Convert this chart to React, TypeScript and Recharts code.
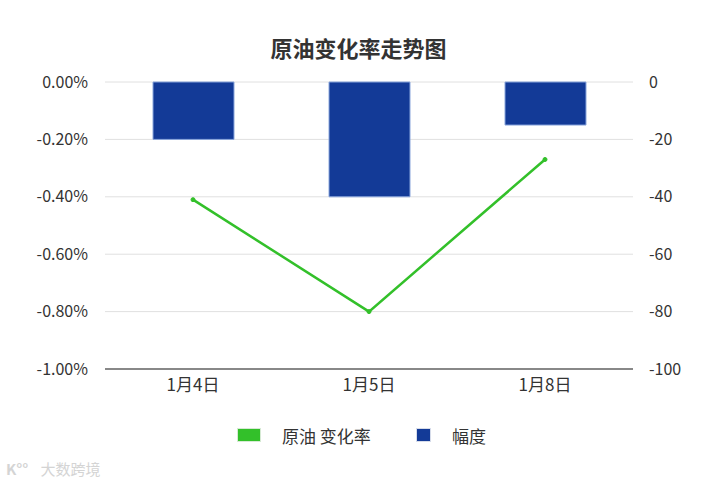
import {
    ComposedChart,
    Bar,
    Line,
    XAxis,
    YAxis,
    CartesianGrid,
} from "recharts";

const days = ["1月4日", "1月5日", "1月8日"];
// 原油 变化率 (%)
const changeRate = [-0.41, -0.8, -0.27];
// 幅度
const amplitude = [-20, -40, -15];
const leftTicks = [0, -0.2, -0.4, -0.6, -0.8, -1];
const rightTicks = [0, -20, -40, -60, -80, -100];

const data = days.map((day, i) => ({
    day,
    rate: changeRate[i],
    amp: amplitude[i],
}));

const font = "'Noto Sans CJK SC', 'Noto Sans', sans-serif";
const tickStyle = { fill: "#333", fontSize: 16, fontFamily: font };
const xTickStyle = { fill: "#333", fontSize: 17, fontFamily: font };

export default function App() {
    return (
        <div
            style={{
                position: "absolute",
                left: 0,
                top: 0,
                width: 717,
                height: 489,
                background: "#fff",
                fontFamily: font,
            }}
        >
            <div
                style={{
                    position: "absolute",
                    top: 31,
                    left: 0,
                    width: 717,
                    textAlign: "center",
                    fontSize: 22,
                    fontWeight: "bold",
                    color: "#333",
                }}
            >
                原油变化率走势图
            </div>

            <ComposedChart
                width={717}
                height={489}
                data={data}
                margin={{ top: 82, right: 24, bottom: 90, left: 25 }}
            >
                <CartesianGrid vertical={false} stroke="#e0e0e0" yAxisId="left" />
                <XAxis
                    dataKey="day"
                    axisLine={{ stroke: "#666", strokeWidth: 1.5 }}
                    tickLine={false}
                    tickSize={0}
                    tickMargin={10}
                    height={30}
                    tick={xTickStyle}
                />
                <YAxis
                    yAxisId="left"
                    domain={[-1, 0]}
                    ticks={leftTicks}
                    tickFormatter={(v: number) => v.toFixed(2) + "%"}
                    axisLine={false}
                    tickLine={false}
                    tickSize={0}
                    tickMargin={17}
                    width={80}
                    tick={tickStyle}
                />
                <YAxis
                    yAxisId="right"
                    orientation="right"
                    domain={[-100, 0]}
                    ticks={rightTicks}
                    axisLine={false}
                    tickLine={false}
                    tickSize={0}
                    tickMargin={16}
                    width={60}
                    tick={tickStyle}
                />
                <Bar
                    yAxisId="right"
                    dataKey="amp"
                    name="幅度"
                    fill="#133a97"
                    stroke="#8aa6dc"
                    strokeWidth={1}
                    barSize={81}
                    isAnimationActive={false}
                />
                <Line
                    yAxisId="left"
                    type="linear"
                    dataKey="rate"
                    name="原油 变化率"
                    stroke="#33c02a"
                    strokeWidth={2.5}
                    dot={{ r: 2, fill: "#33c02a", stroke: "#33c02a", strokeWidth: 1 }}
                    isAnimationActive={false}
                />
            </ComposedChart>

            <div
                style={{
                    position: "absolute",
                    top: 423,
                    left: 0,
                    width: 717,
                    height: 22,
                    fontSize: 17,
                    color: "#333",
                }}
            >
                <div
                    style={{
                        position: "absolute",
                        left: 237,
                        top: 5,
                        width: 22,
                        height: 12,
                        background: "#33c02a",
                        border: "1px solid #d6ead4",
                    }}
                />
                <span style={{ position: "absolute", left: 282, top: 0, whiteSpace: "nowrap" }}>
                    原油 变化率
                </span>
                <div
                    style={{
                        position: "absolute",
                        left: 416,
                        top: 5,
                        width: 13,
                        height: 12,
                        background: "#133a97",
                        border: "1px solid #d6dcea",
                    }}
                />
                <span style={{ position: "absolute", left: 452, top: 0, whiteSpace: "nowrap" }}>
                    幅度
                </span>
            </div>

            <div
                style={{
                    position: "absolute",
                    left: 6,
                    top: 458,
                    fontSize: 15,
                    color: "#d4d4d4",
                    whiteSpace: "nowrap",
                }}
            >
                <span style={{ fontWeight: "bold", marginRight: 12 }}>K°°</span>
                大数跨境
            </div>
        </div>
    );
}
